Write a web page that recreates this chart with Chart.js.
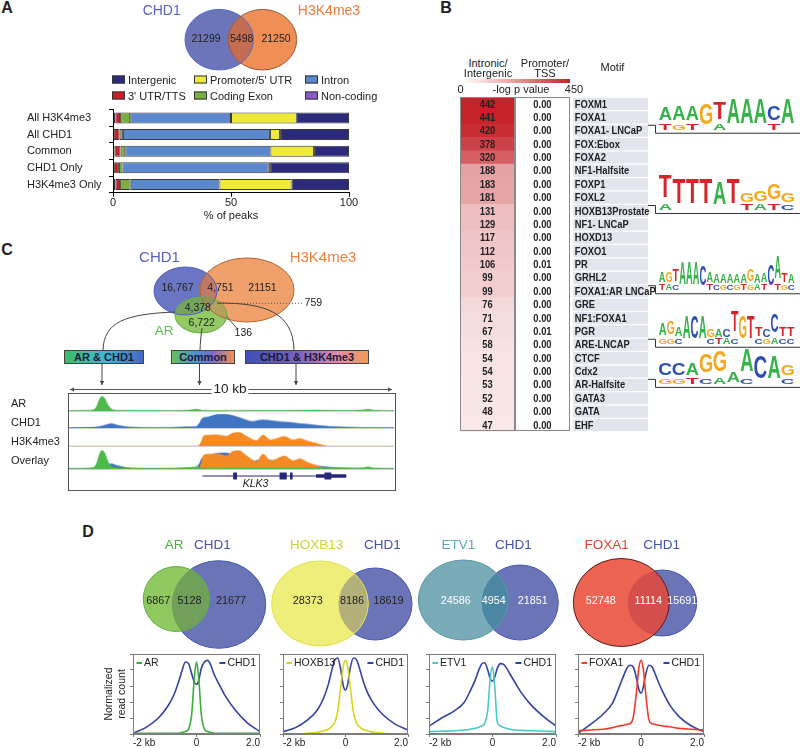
<!DOCTYPE html>
<html lang="en">
<head>
<meta charset="UTF-8">
<title>CHD1 / H3K4me3 / AR figure</title>
<script src="https://cdn.jsdelivr.net/npm/chart.js"></script>
<style>
  body { margin: 0; background: #fff; font-family: Arial, "Liberation Sans", sans-serif; color: #222; }
  #fig { position: relative; width: 800px; height: 748px; overflow: hidden; }
  #fig canvas { position: absolute; }
  .t { position: absolute; white-space: nowrap; font-size: 11px; line-height: 13px; }
  .c { transform: translate(-50%, -50%); text-align: center; }
  .l { transform: translateY(-50%); }
  .sw { display: inline-block; width: 11px; height: 6px; border: 1px solid #333; margin-right: 3px; vertical-align: 0px; }
  .box { position: absolute; border: 1px solid #444; font-weight: bold; font-size: 11px; line-height: 12px; text-align: center; color: #1b1b3a; }
  .trk { border-bottom: 1px solid #cfcfcf; }
  #trackBox { position: absolute; left: 68px; top: 393px; width: 326px; height: 96px; border: 1px solid #555; }
</style>
</head>
<body>
<div id="fig">
  <canvas id="vennA" width="250" height="78" style="left:130px;top:0px"></canvas>
  <canvas id="distChart" width="362" height="121" style="left:0px;top:100px"></canvas>
  <canvas id="heatChart" width="340" height="340" style="left:460px;top:95px"></canvas>
  <canvas id="vennC" width="345" height="148" style="left:55px;top:245px"></canvas>
  <div id="trackBox"></div>
  <canvas id="trackAR" class="trk" width="325" height="16" style="left:69px;top:396px"></canvas>
  <canvas id="trackCHD1" class="trk" width="325" height="15" style="left:69px;top:414px"></canvas>
  <canvas id="trackH3" class="trk" width="325" height="15" style="left:69px;top:432px"></canvas>
  <canvas id="trackOv" class="trk" width="325" height="20" style="left:69px;top:450px"></canvas>
  <canvas id="trackGene" width="325" height="10" style="left:69px;top:471px"></canvas>
  <canvas id="vennD" width="590" height="117" style="left:130px;top:535px"></canvas>
  <canvas id="prof1" width="160" height="99" style="left:103px;top:650px"></canvas>
  <canvas id="prof2" width="131" height="99" style="left:280px;top:650px"></canvas>
  <canvas id="prof3" width="133" height="99" style="left:426px;top:650px"></canvas>
  <canvas id="prof4" width="132" height="99" style="left:575px;top:650px"></canvas>
</div>

<script>
  // ---------- A: CHD1 vs H3K4me3 ----------
  const vennA_sets = ['CHD1', 'H3K4me3'];
  const vennA_counts = [21299, 5498, 21250];

  const distCategories = ['All H3K4me3', 'All CHD1', 'Common', 'CHD1 Only', 'H3K4me3 Only'];
  const distNonCoding = [1, 0.3, 0.6, 0.3, 1];
  const distUtr3 = [2, 2.5, 2.6, 2.2, 2];
  const distExon = [4.3, 1.4, 2, 1.5, 4.5];
  const distIntron = [42.7, 62.3, 61.5, 62, 37.6];
  const distPromoter = [27.9, 4.3, 18.5, 0.9, 30.6];
  const distIntergenic = [22.1, 29.2, 14.8, 33.1, 24.3];

  // ---------- B: motif enrichment ----------
  const motifNames = ['FOXM1', 'FOXA1', 'FOXA1- LNCaP', 'FOX:Ebox', 'FOXA2', 'NF1-Halfsite', 'FOXP1', 'FOXL2',
    'HOXB13Prostate', 'NF1- LNCaP', 'HOXD13', 'FOXO1', 'PR', 'GRHL2', 'FOXA1:AR LNCaP', 'GRE', 'NF1:FOXA1',
    'PGR', 'ARE-LNCAP', 'CTCF', 'Cdx2', 'AR-Halfsite', 'GATA3', 'GATA', 'EHF'];
  const intronicLogP = [442, 441, 420, 378, 320, 188, 183, 181, 131, 129, 117, 112, 106, 99, 99, 76, 71, 67, 58, 54, 54, 53, 52, 48, 47];
  const promoterLogP = [0, 0, 0, 0, 0, 0, 0, 0, 0, 0, 0, 0, 0.01, 0, 0, 0, 0, 0.01, 0, 0, 0, 0, 0, 0, 0];

  const logoRows = ['FOXA1- LNCaP', 'HOXB13Prostate', 'FOXA1:AR LNCaP', 'ARE-LNCAP', 'AR-Halfsite'];
  const logoTop = ['AAAGTAAACA', 'TTTTATGGGG', 'AGTAAACAAAAAAGAACATA', 'AGAACAGACTGTTCCTT', 'CCAGGAACAG'];
  const logoLow = ['TGT-A---T-', 'A-----TATC', 'TAC----TCGCGTGAT-TGC', 'GGC---CTAC--CGACC', 'GGTCA-C--C'];
  const logoHeights = [
    [0.55, 0.6, 0.6, 0.85, 1, 1, 1, 1, 0.6, 1],
    [0.9, 1, 1, 1, 0.92, 1, 0.4, 0.45, 0.65, 0.4],
    [0.45, 0.45, 0.5, 0.9, 0.9, 0.9, 0.8, 0.45, 0.35, 0.35, 0.35, 0.35, 0.35, 0.5, 0.35, 0.4, 0.85, 0.9, 0.4, 0.35],
    [0.5, 0.55, 0.35, 0.9, 0.9, 0.9, 0.3, 0.3, 0.3, 0.85, 0.9, 0.9, 0.35, 0.3, 0.75, 0.35, 0.35],
    [0.5, 0.5, 0.5, 0.75, 0.85, 0.45, 0.9, 0.9, 0.9, 0.45]
  ];

  // ---------- C: AR / CHD1 / H3K4me3 ----------
  const vennC_sets = ['CHD1', 'H3K4me3', 'AR'];
  const vennC_labels = ['16,767', '4,751', '21151', '4,378', '6,722', '759', '136'];
  const trackNames = ['AR', 'CHD1', 'H3K4me3', 'Overlay'];
  // positions in kb across the 10 kb window, signal as fraction of track height
  const arX = [0, 0.5, 0.75, 0.85, 0.95, 1.02, 1.1, 1.2, 1.3, 1.5, 2, 3, 3.7, 3.9, 4.1, 4.5, 5.5, 6.5, 7.5, 8.5, 9.0, 9.2, 9.4, 10];
  const arY = [0.03, 0.04, 0.08, 0.3, 0.85, 1.0, 0.85, 0.4, 0.15, 0.05, 0.04, 0.03, 0.06, 0.12, 0.05, 0.03, 0.05, 0.04, 0.06, 0.04, 0.06, 0.12, 0.05, 0.03];
  const chdX = [0, 0.8, 1.1, 1.3, 1.5, 1.9, 2.5, 3.2, 3.6, 3.9, 4.0, 4.1, 4.3, 4.55, 4.8, 5.05, 5.3, 5.5, 5.66, 5.8, 5.97, 6.2, 6.58, 6.85, 7.1, 7.35, 7.6, 7.85, 8.1, 8.5, 9.1, 10];
  const chdY = [0.03, 0.06, 0.2, 0.32, 0.2, 0.06, 0.04, 0.05, 0.08, 0.1, 0.3, 0.7, 0.82, 0.98, 1.0, 0.9, 0.72, 0.55, 0.48, 0.55, 0.6, 0.55, 0.45, 0.4, 0.32, 0.28, 0.2, 0.15, 0.1, 0.07, 0.04, 0.03];
  const h3X = [0, 3.95, 4.05, 4.15, 4.3, 4.55, 4.85, 5.05, 5.25, 5.4, 5.55, 5.77, 5.97, 6.2, 6.4, 6.62, 6.9, 7.1, 7.35, 7.6, 7.8, 7.95, 10];
  const h3Y = [0, 0, 0.2, 0.75, 0.8, 0.82, 0.72, 0.95, 0.98, 0.8, 0.6, 0.4, 0.8, 0.45, 0.55, 0.7, 0.45, 0.55, 0.35, 0.2, 0.06, 0, 0];
  const klk3Span = [4.1, 8.53];
  const klk3Utr = [7.6, 8.53];
  const klk3Exons = [[5.05, 5.17], [6.48, 6.7], [6.8, 6.88], [7.86, 8.07]];

  // ---------- D: factor overlaps with CHD1 ----------
  const dFactors = ['AR', 'HOXB13', 'ETV1', 'FOXA1'];
  const dTfOnly = [6867, 28373, 24586, 52748];
  const dShared = [5128, 8186, 4954, 11114];
  const dChdOnly = [21677, 18619, 21851, 15691];

  const profX = [-2, -1.6, -1.2, -0.9, -0.7, -0.55, -0.45, -0.35, -0.25, -0.15, -0.07, 0, 0.07, 0.15, 0.25, 0.35, 0.45, 0.55, 0.7, 0.9, 1.2, 1.6, 2];
  const profAR = [0.01, 0.01, 0.01, 0.01, 0.01, 0.01, 0.02, 0.03, 0.06, 0.25, 0.7, 0.9, 0.7, 0.25, 0.06, 0.03, 0.02, 0.01, 0.01, 0.01, 0.01, 0.01, 0.01];
  const profChdAR = [0.01, 0.08, 0.2, 0.35, 0.5, 0.67, 0.8, 0.9, 0.88, 0.75, 0.65, 0.62, 0.67, 0.82, 0.9, 0.92, 0.86, 0.75, 0.63, 0.48, 0.31, 0.14, 0.03];
  const profHOXB13 = [0, 0, 0.01, 0.02, 0.04, 0.06, 0.09, 0.14, 0.28, 0.6, 0.85, 0.92, 0.85, 0.6, 0.28, 0.14, 0.09, 0.06, 0.04, 0.02, 0.01, 0, 0];
  const profChdHOXB13 = [0.03, 0.08, 0.18, 0.3, 0.45, 0.62, 0.78, 0.92, 0.95, 0.8, 0.6, 0.55, 0.62, 0.82, 0.95, 0.93, 0.82, 0.68, 0.52, 0.38, 0.24, 0.12, 0.05];
  const profETV1 = [0.03, 0.035, 0.04, 0.05, 0.06, 0.07, 0.08, 0.1, 0.13, 0.3, 0.7, 0.84, 0.6, 0.15, 0.1, 0.08, 0.07, 0.06, 0.05, 0.045, 0.04, 0.035, 0.03];
  const profChdETV1 = [0.1, 0.2, 0.29, 0.39, 0.54, 0.67, 0.78, 0.87, 0.89, 0.8, 0.69, 0.66, 0.71, 0.82, 0.88, 0.87, 0.82, 0.75, 0.65, 0.52, 0.37, 0.22, 0.1];
  const profFOXA1 = [0.04, 0.05, 0.06, 0.08, 0.1, 0.11, 0.12, 0.13, 0.2, 0.5, 0.82, 0.92, 0.82, 0.5, 0.18, 0.13, 0.12, 0.11, 0.1, 0.09, 0.07, 0.06, 0.05];
  const profChdFOXA1 = [0.01, 0.12, 0.25, 0.39, 0.58, 0.73, 0.82, 0.86, 0.84, 0.71, 0.56, 0.51, 0.58, 0.75, 0.86, 0.84, 0.75, 0.65, 0.52, 0.37, 0.22, 0.1, 0.03];

  // ---------- shared setup ----------
  const FONT = 'Arial, "Liberation Sans", sans-serif';
  Chart.defaults.font.family = FONT;
  Chart.defaults.color = '#222';
  Chart.defaults.animation = false;
  Chart.defaults.responsive = false;
  Chart.defaults.plugins.legend.display = false;
  Chart.defaults.plugins.tooltip.enabled = false;

  const fig = document.getElementById('fig');
  function addText(txt, x, y, opts = {}) {
    const d = document.createElement('div');
    d.className = 't ' + (opts.left ? 'l' : 'c');
    d.style.left = x + 'px';
    d.style.top = y + 'px';
    if (opts.size) d.style.fontSize = opts.size + 'px';
    if (opts.bold) d.style.fontWeight = 'bold';
    if (opts.italic) d.style.fontStyle = 'italic';
    if (opts.color) d.style.color = opts.color;
    if (opts.bg) { d.style.background = opts.bg; d.style.padding = '0 2px'; }
    if (opts.html) d.innerHTML = txt; else d.textContent = txt;
    fig.appendChild(d);
  }

  // ellipses / labels / connectors drawn through the chart's own x,y scales
  function drawSpec(chart, spec) {
    const ctx = chart.ctx, sx = chart.scales.x, sy = chart.scales.y;
    const px = v => sx.getPixelForValue(v), py = v => sy.getPixelForValue(v);
    const shape = s => {
      ctx.beginPath();
      ctx.ellipse(px(s.cx), py(s.cy), Math.abs(px(s.cx + s.rx) - px(s.cx)), Math.abs(py(s.cy + s.ry) - py(s.cy)), 0, 0, Math.PI * 2);
    };
    const stroke = s => { shape(s); ctx.strokeStyle = s.stroke; ctx.lineWidth = 1; ctx.stroke(); };
    const fillOverlap = o => {
      ctx.save();
      o.clip.slice(0, -1).forEach(i => { shape(spec.shapes[i]); ctx.clip(); });
      shape(spec.shapes[o.clip[o.clip.length - 1]]);
      ctx.fillStyle = o.fill;
      ctx.fill();
      ctx.restore();
    };
    ctx.save();
    if (spec.layered) {
      // pairs: back shape (fill+stroke), front shape fill, overlap, front stroke
      for (let i = 0; i < spec.shapes.length; i += 2) {
        const back = spec.shapes[i], front = spec.shapes[i + 1];
        shape(back); ctx.fillStyle = back.fill; ctx.fill(); stroke(back);
        shape(front); ctx.fillStyle = front.fill; ctx.fill();
        fillOverlap(spec.overlaps[i / 2]);
        stroke(front);
      }
    } else {
      spec.shapes.forEach(s => { shape(s); ctx.fillStyle = s.fill; ctx.fill(); });
      (spec.overlaps || []).forEach(fillOverlap);
      spec.shapes.forEach(stroke);
    }
    (spec.lines || []).forEach(l => {
      const p = l.pts;
      ctx.strokeStyle = l.color || '#444';
      ctx.lineWidth = 1;
      ctx.setLineDash(l.dash || []);
      ctx.beginPath();
      ctx.moveTo(px(p[0]), py(p[1]));
      if (p.length === 8) ctx.bezierCurveTo(px(p[2]), py(p[3]), px(p[4]), py(p[5]), px(p[6]), py(p[7]));
      else ctx.lineTo(px(p[2]), py(p[3]));
      ctx.stroke();
      ctx.setLineDash([]);
      const head = (x, y, dx, dy) => {
        ctx.beginPath();
        ctx.moveTo(x, y);
        ctx.lineTo(x - dx * 4 - dy * 2.2, y - dy * 4 + dx * 2.2);
        ctx.lineTo(x - dx * 4 + dy * 2.2, y - dy * 4 - dx * 2.2);
        ctx.closePath();
        ctx.fillStyle = l.color || '#444';
        ctx.fill();
      };
      if (l.arrowEnd) {
        const x1 = px(p[p.length - 2]), y1 = py(p[p.length - 1]), x0 = px(p[p.length - 4]), y0 = py(p[p.length - 3]);
        const len = Math.hypot(x1 - x0, y1 - y0);
        head(x1, y1, (x1 - x0) / len, (y1 - y0) / len);
      }
      if (l.arrowStart) {
        const x1 = px(p[0]), y1 = py(p[1]), x0 = px(p[2]), y0 = py(p[3]);
        const len = Math.hypot(x1 - x0, y1 - y0);
        head(x1, y1, (x1 - x0) / len, (y1 - y0) / len);
      }
    });
    (spec.texts || []).forEach(t => {
      ctx.font = (t.bold ? 'bold ' : '') + (t.size || 10.5) + 'px ' + FONT;
      ctx.fillStyle = t.color || '#222';
      ctx.textAlign = 'center';
      ctx.textBaseline = 'middle';
      ctx.fillText(String(t.t), px(t.x), py(t.y));
    });
    ctx.restore();
  }

  function diagramChart(id, left, top, w, h, spec) {
    return new Chart(document.getElementById(id), {
      type: 'scatter',
      data: { datasets: [{ data: [] }] },
      options: {
        layout: { padding: 0 },
        scales: {
          x: { display: false, min: left, max: left + w },
          y: { display: false, min: top, max: top + h, reverse: true }
        }
      },
      plugins: [{ id: 'diagram', afterDatasetsDraw: chart => drawSpec(chart, spec) }]
    });
  }

  // ---------- panel letters ----------
  addText('A', 7, 7, { bold: true, size: 16 });
  addText('B', 446, 7, { bold: true, size: 16 });
  addText('C', 7, 249, { bold: true, size: 16 });
  addText('D', 88, 531, { bold: true, size: 16 });

  // ---------- A: venn ----------
  diagramChart('vennA', 130, 0, 250, 78, {
    shapes: [
      { cx: 219.2, cy: 39.7, rx: 34.2, ry: 30.3, fill: '#6d75b9', stroke: '#4d6ad8' },
      { cx: 262.5, cy: 39.7, rx: 34.2, ry: 30.3, fill: '#ef8e55', stroke: '#9a5a38' }
    ],
    overlaps: [{ clip: [0, 1], fill: '#c46d53' }],
    texts: [
      { t: vennA_sets[0], x: 161.7, y: 11, color: '#5a62c4', size: 14 },
      { t: vennA_sets[1], x: 329, y: 11, color: '#f07a3a', size: 14 },
      { t: vennA_counts[0], x: 206, y: 39.5 },
      { t: vennA_counts[1], x: 241.7, y: 39.5 },
      { t: vennA_counts[2], x: 276, y: 39.5 }
    ]
  });

  // ---------- A: genomic distribution bars ----------
  const distSeries = [
    { label: 'Non-coding', data: distNonCoding, color: '#8a5cc8' },
    { label: "3' UTR/TTS", data: distUtr3, color: '#c8202a' },
    { label: 'Coding Exon', data: distExon, color: '#78b040' },
    { label: 'Intron', data: distIntron, color: '#5b87cc' },
    { label: "Promoter/5' UTR", data: distPromoter, color: '#efea3a' },
    { label: 'Intergenic', data: distIntergenic, color: '#2c2a7c' }
  ];
  new Chart(document.getElementById('distChart'), {
    type: 'bar',
    data: {
      labels: distCategories,
      datasets: distSeries.map(s => ({
        label: s.label, data: s.data, backgroundColor: s.color,
        borderColor: '#3a3a3a', borderWidth: 1, borderSkipped: false,
        barPercentage: 0.66, categoryPercentage: 1
      }))
    },
    options: {
      indexAxis: 'y',
      layout: { padding: { left: 27, top: 4.25, right: 13, bottom: 0 } },
      scales: {
        x: {
          stacked: true, min: 0, max: 100,
          ticks: { stepSize: 50, padding: 0, font: { size: 11 }, color: '#222' },
          grid: { drawOnChartArea: false, tickLength: 4, color: '#000' },
          border: { color: '#000' },
          title: { display: true, text: '% of peaks', padding: 0, font: { size: 11, lineHeight: 1 }, color: '#222' }
        },
        y: {
          stacked: true,
          ticks: { crossAlign: 'far', font: { size: 11 }, color: '#222' },
          grid: { drawOnChartArea: false, tickLength: 4, color: '#000' },
          border: { color: '#000' },
          afterFit: s => { s.width = 86; }
        }
      }
    }
  });
  // legend, laid out in the reference's 3 x 2 grid
  const legendOrder = ['Intergenic', "Promoter/5' UTR", 'Intron', "3' UTR/TTS", 'Coding Exon', 'Non-coding'];
  legendOrder.forEach((name, i) => {
    const s = distSeries.find(d => d.label === name);
    addText(`<span class="sw" style="background:${s.color}"></span>${name}`,
      [112, 194, 305][i % 3], i < 3 ? 80 : 96, { left: true, html: true });
  });

  // ---------- B: motif heat table ----------
  addText('Intronic/', 488, 62.5);
  addText('Intergenic', 488, 73.3);
  addText('Promoter/', 545, 62.5);
  addText('TSS', 545, 73.3);
  addText('Motif', 612.5, 67);
  addText('0', 460.5, 89.3);
  addText('-log p value', 521, 89.3);
  addText('450', 574, 89.3);
  const grad = document.createElement('div');
  grad.style.cssText = 'position:absolute;left:462px;top:79px;width:108px;height:4px;background:linear-gradient(to right,#fff,#f0b0b0 40%,#c51f28)';
  fig.appendChild(grad);

  function heatColor(v) {
    const t = Math.min(1, v / 450);
    return `rgb(${Math.round(255 - 59 * t)},${Math.round(255 - 225 * t)},${Math.round(255 - 217 * t)})`;
  }
  const logoColors = { A: '#36b24a', C: '#2f4eb4', G: '#f5a81f', T: '#d3262b' };
  function drawLetter(ctx, ch, x, yBottom, w, h) {
    if (h < 0.6) return;
    ctx.save();
    ctx.font = 'bold 100px ' + FONT;
    const m = ctx.measureText(ch);
    const asc = m.actualBoundingBoxAscent, desc = m.actualBoundingBoxDescent;
    const lw = m.actualBoundingBoxLeft + m.actualBoundingBoxRight;
    ctx.translate(x, yBottom);
    ctx.scale(w / lw, h / (asc + desc));
    ctx.fillStyle = logoColors[ch];
    ctx.textBaseline = 'alphabetic';
    ctx.textAlign = 'left';
    ctx.fillText(ch, m.actualBoundingBoxLeft, -desc);
    ctx.restore();
  }
  function condensedText(ctx, txt, x, y, align) {
    ctx.save();
    ctx.translate(x, y);
    ctx.scale(0.85, 1);
    ctx.textAlign = align;
    ctx.fillText(txt, 0, 0);
    ctx.restore();
  }

  new Chart(document.getElementById('heatChart'), {
    type: 'bar',
    data: {
      labels: motifNames,
      datasets: [
        { data: motifNames.map(() => [0, 1]), backgroundColor: intronicLogP.map(heatColor), barPercentage: 1, categoryPercentage: 1, borderWidth: 0 },
        { data: motifNames.map(() => [1, 2]), backgroundColor: '#ffffff', barPercentage: 1, categoryPercentage: 1, borderWidth: 0 },
        { data: motifNames.map(() => [2.06, 3.42]), backgroundColor: '#e3e5ee', barPercentage: 0.9, categoryPercentage: 1, borderWidth: 0 }
      ]
    },
    options: {
      indexAxis: 'y',
      layout: { padding: { top: 2.3, bottom: 3.3, left: 0, right: 152 } },
      scales: {
        x: { display: false, min: 0, max: 3.42 },
        y: { display: false, stacked: true }
      }
    },
    plugins: [{
      id: 'heatText',
      afterDatasetsDraw(chart) {
        const { ctx, scales: { x, y } } = chart;
        const band = y.getPixelForValue(1) - y.getPixelForValue(0);
        const top = y.getPixelForValue(0) - band / 2;
        const bottom = y.getPixelForValue(motifNames.length - 1) + band / 2;
        ctx.save();
        ctx.strokeStyle = '#8a8a8a';
        ctx.lineWidth = 1;
        [[0, 1], [1, 2]].forEach(([a, b]) => {
          const x0 = Math.round(x.getPixelForValue(a)) + 0.5, x1 = Math.round(x.getPixelForValue(b)) - 0.5;
          ctx.strokeRect(x0, Math.round(top) + 0.5, x1 - x0, Math.round(bottom - top) - 1);
        });
        ctx.font = 'bold 11px ' + FONT;
        ctx.textBaseline = 'middle';
        ctx.fillStyle = '#222';
        motifNames.forEach((name, i) => {
          const yy = y.getPixelForValue(i) + 0.5;
          condensedText(ctx, String(intronicLogP[i]), x.getPixelForValue(0.5), yy, 'center');
          condensedText(ctx, promoterLogP[i].toFixed(2), x.getPixelForValue(1.5), yy, 'center');
          condensedText(ctx, name, x.getPixelForValue(2.06) + 1.5, yy, 'left');
        });
        // motif logos with brackets to their rows
        const right = chart.chartArea.right;
        logoRows.forEach((row, k) => {
          const yy = y.getPixelForValue(motifNames.indexOf(row));
          const base = yy + 2, H = 24, x0 = right + 11, x1 = chart.width - 5;
          ctx.strokeStyle = '#333';
          ctx.beginPath();
          ctx.moveTo(right, yy - 5.5);
          ctx.lineTo(right + 7.5, yy - 5.5);
          ctx.lineTo(right + 7.5, base + 0.5);
          ctx.lineTo(chart.width, base + 0.5);
          ctx.stroke();
          const seq = logoTop[k], low = logoLow[k], hs = logoHeights[k];
          const w = (x1 - x0) / seq.length;
          for (let i = 0; i < seq.length; i++) {
            const lowH = low[i] !== '-' ? 0.28 * H : 0;
            if (lowH) drawLetter(ctx, low[i], x0 + i * w, base - 0.5, w * 0.92, lowH - 1);
            drawLetter(ctx, seq[i], x0 + i * w, base - 0.5 - lowH, w * 0.92, hs[i] * H - lowH * (hs[i] < 1 ? 0 : 1));
          }
        });
        ctx.restore();
      }
    }]
  });

  // ---------- C: three-way venn, connectors ----------
  diagramChart('vennC', 55, 245, 345, 148, {
    shapes: [
      { cx: 185.5, cy: 291, rx: 31.5, ry: 24, fill: '#6a76c4', stroke: '#4f60c4' },
      { cx: 247, cy: 290, rx: 47, ry: 32, fill: '#f0a06a', stroke: '#b4652e' },
      { cx: 201, cy: 315, rx: 26, ry: 18, fill: '#92c966', stroke: '#62a845' }
    ],
    overlaps: [
      { clip: [0, 1], fill: '#c07a66' },
      { clip: [0, 2], fill: '#74a460' },
      { clip: [1, 2], fill: '#b4a25e' },
      { clip: [0, 1, 2], fill: '#98905c' }
    ],
    lines: [
      { pts: [217, 303.3, 303, 303.3], dash: [1, 2], color: '#555' },
      { pts: [226.5, 316.5, 237.5, 329], color: '#555' },
      { pts: [175, 312, 125, 314, 104, 322, 103, 350] },
      { pts: [202, 328, 201, 336, 200.3, 342, 200, 350] },
      { pts: [218, 303, 265, 303, 293, 312, 294, 350] },
      { pts: [102, 363, 102, 385], arrowEnd: true },
      { pts: [199.5, 363, 199.5, 385], arrowEnd: true },
      { pts: [296, 363, 296, 385], arrowEnd: true },
      { pts: [70, 389.5, 392, 389.5], arrowEnd: true, arrowStart: true, color: '#555' }
    ],
    texts: [
      { t: vennC_sets[0], x: 159.5, y: 258, color: '#5563c6', size: 15 },
      { t: vennC_sets[1], x: 323, y: 258, color: '#f07f3a', size: 15 },
      { t: vennC_sets[2], x: 164.2, y: 331, color: '#58c048', size: 13.5 },
      { t: vennC_labels[0], x: 177.5, y: 288.3 },
      { t: vennC_labels[1], x: 220.5, y: 288.3 },
      { t: vennC_labels[2], x: 262.5, y: 288.3 },
      { t: vennC_labels[3], x: 197.8, y: 308.3 },
      { t: vennC_labels[4], x: 201.7, y: 323.3 },
      { t: vennC_labels[5], x: 313.3, y: 303.3 },
      { t: vennC_labels[6], x: 243.3, y: 333.3 }
    ]
  });
  const groupBoxes = [
    { t: 'AR & CHD1', x: 64, w: 78, bg: 'linear-gradient(to right,#3dbb6a,#3fb8d8 55%,#4466c4)' },
    { t: 'Common', x: 171, w: 62, bg: 'linear-gradient(to right,#66c060,#4a8ed0 40%,#7c6cc8 65%,#f09050)' },
    { t: 'CHD1 & H3K4me3', x: 245, w: 122, bg: 'linear-gradient(to right,#3f4fb4,#7d64c0 45%,#e48aa8 75%,#f39a56)' }
  ];
  groupBoxes.forEach(b => {
    const d = document.createElement('div');
    d.className = 'box';
    d.style.cssText += `left:${b.x}px;top:350px;width:${b.w}px;height:12px;background:${b.bg}`;
    d.textContent = b.t;
    fig.appendChild(d);
  });
  addText('10 kb', 230, 388, { size: 13.5, bg: '#fff' });

  // ---------- C: signal tracks ----------
  const trackColors = { AR: '#4cbb4a', CHD1: '#3f74c2', H3: '#f38a24' };
  // first listed layer is drawn on top; layers with `max` get their own hidden y scale
  function trackChart(id, layers) {
    const scales = { x: { type: 'linear', display: false, min: 0, max: 10 }, y: { display: false, min: 0, max: 1.02 } };
    layers.forEach((l, i) => { if (l.max) scales['y' + i] = { display: false, min: 0, max: l.max }; });
    new Chart(document.getElementById(id), {
      type: 'line',
      data: {
        datasets: layers.map((l, i) => ({
          data: l.x.map((x, j) => ({ x, y: l.y[j] })),
          yAxisID: l.max ? 'y' + i : 'y',
          borderColor: l.color, backgroundColor: l.color, borderWidth: 0.6,
          fill: 'origin', pointRadius: 0, cubicInterpolationMode: 'monotone'
        }))
      },
      options: { layout: { padding: 0 }, scales }
    });
  }
  trackChart('trackAR', [{ x: arX, y: arY, color: trackColors.AR }]);
  trackChart('trackCHD1', [{ x: chdX, y: chdY, color: trackColors.CHD1 }]);
  trackChart('trackH3', [{ x: h3X, y: h3Y, color: trackColors.H3 }]);
  trackChart('trackOv', [
    { x: arX, y: arY, color: trackColors.AR },
    { x: h3X, y: h3Y, color: trackColors.H3 },
    { x: chdX, y: chdY, color: trackColors.CHD1, max: 1.18 }
  ]);
  const geneColor = '#26267a';
  new Chart(document.getElementById('trackGene'), {
    type: 'line',
    data: {
      datasets: [
        { data: klk3Exons.flatMap(e => [{ x: e[0], y: 0 }, { x: e[1], y: 0 }, { x: e[1], y: null }]), borderWidth: 7 },
        { data: [{ x: klk3Utr[0], y: 0 }, { x: klk3Utr[1], y: 0 }], borderWidth: 3.5 },
        { data: [{ x: klk3Span[0], y: 0 }, { x: klk3Span[1], y: 0 }], borderWidth: 1.2 }
      ].map(d => Object.assign(d, { borderColor: geneColor, pointRadius: 0, borderCapStyle: 'butt', spanGaps: false }))
    },
    options: {
      layout: { padding: 0 },
      scales: { x: { type: 'linear', display: false, min: 0, max: 10 }, y: { display: false, min: -1, max: 1 } }
    }
  });
  [[403.3, 0], [421.7, 1], [440.7, 2], [460, 3]].forEach(([yy, i]) => addText(trackNames[i], 11, yy, { left: true }));
  addText('KLK3', 255.5, 483, { italic: true, size: 10.5 });

  // ---------- D: venns ----------
  const chdColor = '#6c74b8', chdStroke = '#4455b0', chdLabel = '#4452b0';
  const dLayout = [
    { f: [176.3, 599, 33, 32.5], c: [218.7, 604.5, 47, 43.8], fill: '#90c95f', stroke: '#5cb048', ov: '#70a05a', lab: [174.2, 212.5], labColor: '#4cb040', nums: [158.3, 189.5, 231], numColor: '#222' },
    { f: [320, 603.5, 48.3, 42.5], c: [375.2, 604, 36.8, 36], fill: '#eeee7a', stroke: '#e2e24a', ov: '#b3b07a', lab: [316.7, 382.5], labColor: '#d0d03a', nums: [307.7, 352, 388.5], numColor: '#222' },
    { f: [463.3, 600, 45, 40], c: [520, 602.5, 38.3, 37.5], fill: '#79abb9', stroke: '#5898a8', ov: '#4b86a2', lab: [458.3, 513.3], labColor: '#5aa8b8', nums: [455.7, 493.8, 532.8], numColor: '#fff' },
    { f: [621.3, 602.5, 48, 44], c: [662.2, 603, 34.5, 33], fill: '#ee6452', stroke: '#5a1a1a', ov: '#d44f4c', lab: [606.7, 661.7], labColor: '#ea4030', nums: [600.7, 648.3, 682.2], numColor: '#fff' }
  ];
  const dSpec = { layered: true, shapes: [], overlaps: [], texts: [] };
  dLayout.forEach((v, i) => {
    const n = dSpec.shapes.length;
    dSpec.shapes.push({ cx: v.c[0], cy: v.c[1], rx: v.c[2], ry: v.c[3], fill: chdColor, stroke: chdStroke });
    dSpec.shapes.push({ cx: v.f[0], cy: v.f[1], rx: v.f[2], ry: v.f[3], fill: v.fill, stroke: v.stroke });
    dSpec.overlaps.push({ clip: [n, n + 1], fill: v.ov });
    dSpec.texts.push({ t: dFactors[i], x: v.lab[0], y: 545.7, color: v.labColor, size: 13.5 });
    dSpec.texts.push({ t: 'CHD1', x: v.lab[1], y: 545.7, color: chdLabel, size: 13.5 });
    [dTfOnly[i], dShared[i], dChdOnly[i]].forEach((val, j) =>
      dSpec.texts.push({ t: val, x: v.nums[j], y: 601, color: v.numColor, size: 10.8 }));
  });
  diagramChart('vennD', 130, 535, 590, 117, dSpec);

  // ---------- D: read-count profiles ----------
  const profilePlugin = {
    id: 'profileDeco',
    afterDraw(chart) {
      const { ctx, chartArea: a } = chart;
      ctx.save();
      ctx.strokeStyle = '#7d7d7d';
      ctx.lineWidth = 1;
      ctx.strokeRect(Math.round(a.left) + 0.5, Math.round(a.top) + 0.5, Math.round(a.width) - 1, Math.round(a.height) - 1);
      ctx.font = '10.5px ' + FONT;
      ctx.textBaseline = 'middle';
      const [tf, chd] = chart.data.datasets;
      const yy = a.top + 9;
      ctx.lineWidth = 2;
      ctx.strokeStyle = tf.borderColor;
      ctx.beginPath(); ctx.moveTo(a.left + 3.5, yy); ctx.lineTo(a.left + 9, yy); ctx.stroke();
      ctx.fillStyle = '#222';
      ctx.textAlign = 'left';
      ctx.fillText(tf.label, a.left + 11, yy);
      const w = ctx.measureText(chd.label).width;
      ctx.textAlign = 'right';
      ctx.fillText(chd.label, a.right - 4, yy);
      ctx.strokeStyle = chd.borderColor;
      ctx.beginPath(); ctx.moveTo(a.right - 4 - w - 8, yy); ctx.lineTo(a.right - 4 - w - 2, yy); ctx.stroke();
      ctx.restore();
    }
  };
  // dataset 0 (the factor) is drawn on top of CHD1
  function profileChart(id, tfName, tfColor, tfVals, chdVals, withTitle) {
    new Chart(document.getElementById(id), {
      type: 'line',
      data: {
        datasets: [
          { label: tfName, data: profX.map((x, i) => ({ x, y: tfVals[i] })), borderColor: tfColor },
          { label: 'CHD1', data: profX.map((x, i) => ({ x, y: chdVals[i] })), borderColor: '#3542a4' }
        ].map(d => Object.assign(d, { borderWidth: 1.6, pointRadius: 0, fill: false, cubicInterpolationMode: 'monotone' }))
      },
      options: {
        layout: { padding: { top: 4, right: 3, left: 0, bottom: 0 } },
        scales: {
          x: {
            type: 'linear', min: -2, max: 2,
            ticks: { stepSize: 2, padding: 0, align: 'inner', font: { size: 10 }, color: '#222',
              callback: v => (v === -2 ? '-2 kb' : v === 0 ? '0' : v === 2 ? '2.0' : '') },
            grid: { drawOnChartArea: false, tickLength: 3, color: '#7d7d7d' },
            border: { color: '#7d7d7d' }
          },
          y: {
            min: 0, max: 1,
            ticks: { display: false, stepSize: 0.2 },
            grid: { drawOnChartArea: false, tickLength: 3, color: '#7d7d7d' },
            border: { color: '#7d7d7d' },
            title: { display: withTitle, text: ['Normalized', 'read count'], padding: 0, font: { size: 10.5, lineHeight: 1.2 }, color: '#222' },
            afterFit: s => { s.width = withTitle ? 30 : 3; }
          }
        }
      },
      plugins: [profilePlugin]
    });
  }
  profileChart('prof1', 'AR', '#3aae3a', profAR, profChdAR, true);
  profileChart('prof2', 'HOXB13', '#d6d61e', profHOXB13, profChdHOXB13, false);
  profileChart('prof3', 'ETV1', '#4ec8c2', profETV1, profChdETV1, false);
  profileChart('prof4', 'FOXA1', '#f23a2a', profFOXA1, profChdFOXA1, false);
</script>
</body>
</html>
